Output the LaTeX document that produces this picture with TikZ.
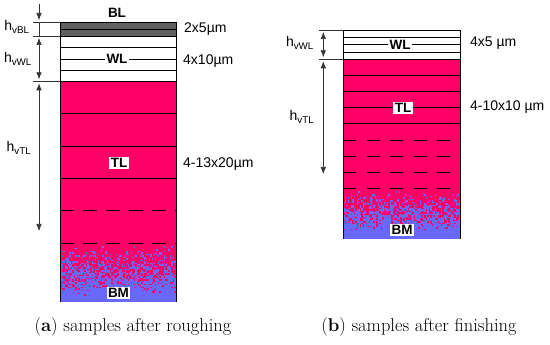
\documentclass[tikz,border=0pt]{standalone}
\usepackage{fontspec}
\newfontfamily\labelfont{Liberation Sans}
\usepackage{xcolor}
\usepackage{tikz}
\usetikzlibrary{arrows.meta}

\definecolor{tlpink}{RGB}{255,0,102}
\definecolor{bmblue}{RGB}{104,104,250}
\definecolor{blgray}{RGB}{96,96,96}

\begin{document}
\begin{tikzpicture}[x=1pt, y=-1pt,
        layerline/.style={draw=black, line width=0.6pt},
        dashline/.style={draw=black, line width=0.6pt, dash pattern=on 14pt off 9pt},
        tag/.style={font=\labelfont\bfseries\fontsize{13.5}{13.5}\selectfont, fill=white, inner sep=1.5pt},
        value/.style={font=\labelfont\fontsize{14}{14}\selectfont, anchor=west, inner sep=0pt},
        hlabel/.style={font=\labelfont\fontsize{14}{14}\selectfont, inner sep=0pt},
        dimline/.style={draw=black!80, line width=0.6pt},
        arrow/.style={dimline, -{Latex[length=7pt,width=5.5pt]}, shorten >=2pt},
        twoarrow/.style={dimline, {Latex[length=7pt,width=5.5pt]}-{Latex[length=7pt,width=5.5pt]}, shorten <=2pt, shorten >=2pt},
        caption/.style={font=\fontsize{18.5}{21}\selectfont}
    ]
    \useasboundingbox (0,0) rectangle (550,345);
    \pgfmathsetseed{4711}

    % Layers (a)
    \fill[blgray] (60,22) rectangle (176,36);
    \fill[tlpink] (60,81.3) rectangle (176,243.3);
    \fill[bmblue] (60,243.3) rectangle (176,301.7);
    % Layers (b)
    \fill[tlpink] (343.3,59.3) rectangle (460,188.3);
    \fill[bmblue] (343.3,188.3) rectangle (460,239);

    % Base material speckle
    \foreach \xo/\yo/\nx/\ny in {60/243.3/76/38, 343.3/188.3/77/32} {
        \foreach \j in {0,...,\ny} {
            \foreach \i in {0,...,\nx} {
                \pgfmathtruncatemacro\hit{rnd < 1.05-1.2*\j/(\ny+1)}
                \ifnum\hit=1
                    \fill[tlpink] (\xo+1.5*\i,\yo+1.5*\j) rectangle ++(1.5,1.5);
                \fi
            }
        }
    }

    % Layer lines (a)
    \foreach \y in {29.5,36,47.6,59,70.5,81.3,113.7,146,178.4} {
        \draw[layerline] (60,\y) -- (176,\y);
    }
    \foreach \y in {210.8,243.3} {
        \draw[dashline] (60,\y) -- (176,\y);
    }
    \draw[layerline] (60,301.7) -- (60,22) -- (176,22) -- (176,301.7);

    % Layer lines (b)
    \foreach \y in {37.3,44.6,52,59.3,75.4,91.6,107.7,123.8} {
        \draw[layerline] (343.3,\y) -- (460,\y);
    }
    \foreach \y in {139.9,156,172.2,188.3} {
        \draw[dashline, dash pattern=on 13pt off 10.5pt] (343.3,\y) -- (460,\y);
    }
    \draw[layerline] (343.3,239) -- (343.3,30) -- (460,30) -- (460,239);

    % Layer names
    \node[tag, fill=none] (bl) at (117,13) {BL};
    \node[tag] (wla) at (117,59) {WL};
    \node[tag] (tla) at (119,163) {TL};
    \node[tag] (bma) at (118.5,293) {BM};
    \node[tag] (wlb) at (400,44.6) {WL};
    \node[tag] (tlb) at (403,108) {TL};
    \node[tag] (bmb) at (402,230) {BM};

    % Thickness values
    \node[value] (vbl) at (184,29) {2x5µm};
    \node[value] (vwla) at (183,61) {4x10µm};
    \node[value] (vtla) at (183,164) {4-13x20µm};
    \node[value] (vwlb) at (470,43) {4x5 µm};
    \node[value] (vtlb) at (470,107) {4-10x10 µm};

    % Dimensions (a)
    \coordinate (atop) at (39,4);
    \coordinate (abl) at (39,22);
    \coordinate (awl) at (39,36);
    \coordinate (atl) at (39,81.3);
    \coordinate (aend) at (39,231);
    \draw[dimline] (33,22) -- (60,22);
    \draw[dimline] (33,36) -- (60,36);
    \draw[dimline] (33,81.3) -- (60,81.3);
    \draw[arrow] (atop) -- (abl);
    \draw[dimline] (abl) -- (awl);
    \draw[twoarrow] (awl) -- (atl);
    \draw[twoarrow, shorten >=0pt] (atl) -- (aend);
    \node[hlabel] (hbl) at (17,27) {h\textsubscript{vBL}};
    \node[hlabel] (hwla) at (18,59) {h\textsubscript{vWL}};
    \node[hlabel] (htla) at (19,148) {h\textsubscript{vTL}};

    % Dimensions (b)
    \coordinate (bwl) at (323.3,30);
    \coordinate (btl) at (323.3,59.3);
    \coordinate (bend) at (323.3,174);
    \draw[dimline] (319,30) -- (343.3,30);
    \draw[dimline] (319,59.3) -- (343.3,59.3);
    \draw[twoarrow] (bwl) -- (btl);
    \draw[twoarrow, shorten >=0pt] (btl) -- (bend);
    \node[hlabel] (hwlb) at (300,43) {h\textsubscript{vWL}};
    \node[hlabel] (htlb) at (302,117) {h\textsubscript{vTL}};

    % Captions
    \node[caption] (capa) at (133,327) {(\textbf{a}) samples after roughing};
    \node[caption] (capb) at (419,327) {(\textbf{b}) samples after finishing};
\end{tikzpicture}
\end{document}
